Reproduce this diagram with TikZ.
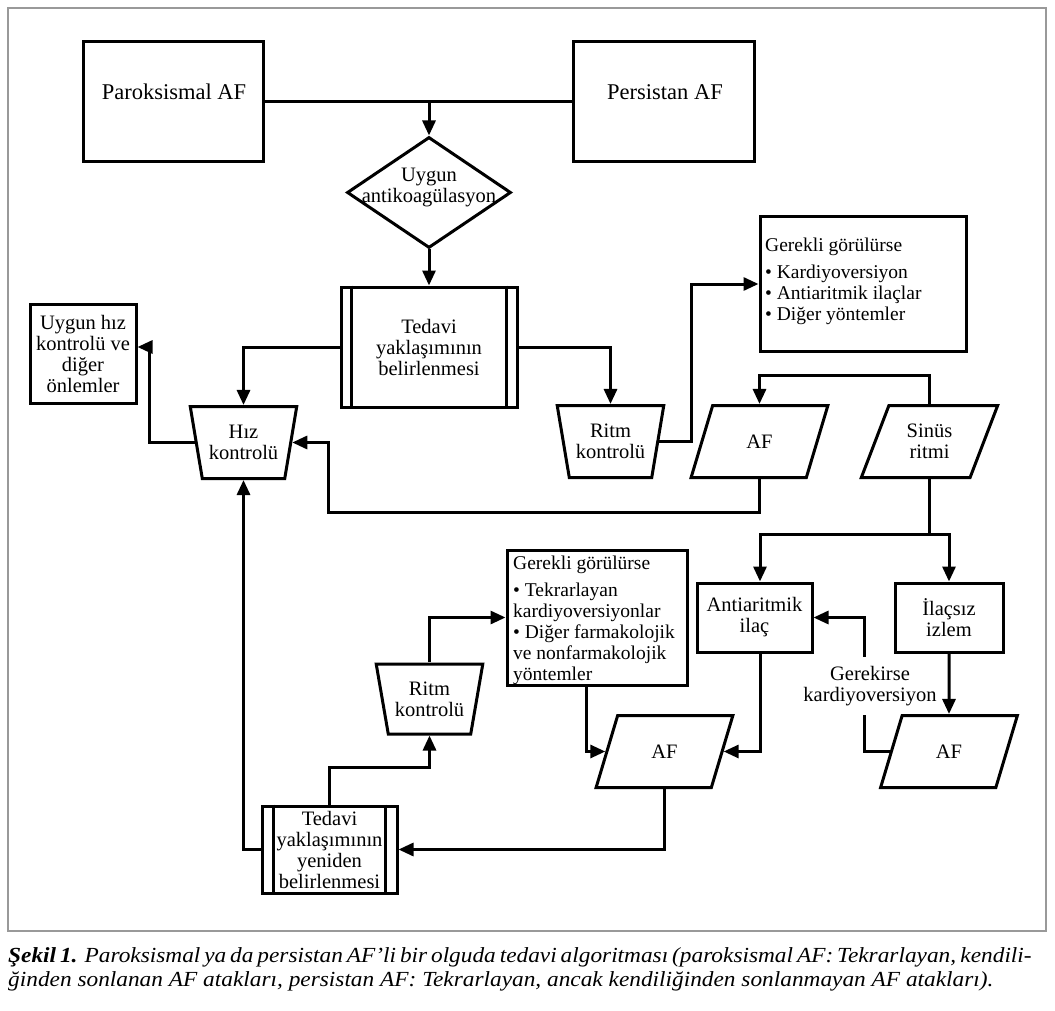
\documentclass[tikz,border=0pt]{standalone}
\usepackage{fontspec}
\setmainfont{Liberation Serif}
\usetikzlibrary{arrows.meta,shapes.geometric}
\tikzset{
  ln/.style={line width=3pt},
  arr/.style={line width=3pt,-{Triangle[length=15pt,width=13pt]}},
  box/.style={draw,line width=3pt,rectangle,inner sep=0pt,align=center},
  txt/.style={inner sep=0pt,align=center},
  trap/.style={draw,line width=3pt,trapezium,trapezium left angle=106.3,trapezium right angle=106.3,
    trapezium stretches=true,minimum width=107,minimum height=72,inner sep=0pt,align=center},
  para/.style={draw,line width=3pt,trapezium,trapezium left angle=66,trapezium right angle=114,
    trapezium stretches=true,minimum width=137,minimum height=72,inner sep=0pt,align=center},
  captxt/.style={anchor=base west,inner sep=0pt,font=\fontsize{21.5}{25}\selectfont\itshape},
  every node/.style={font=\fontsize{20.5}{21}\selectfont},
}
\begin{document}
\begin{tikzpicture}[x=1pt,y=-1pt]
\useasboundingbox (0,0) rectangle (1055,1011);
\draw[gray!80,line width=1.2pt] (8,8) rectangle (1046,931);

% top
\node[box,minimum width=180,minimum height=120] (par) at (173,102) {};
\node[txt,font=\fontsize{22.5}{24}\selectfont] (part) at (174,92) {Paroksismal AF};
\node[box,minimum width=181,minimum height=120] (per) at (663.5,102) {};
\node[txt,font=\fontsize{22.5}{24}\selectfont] (pert) at (665,92) {Persistan AF};
\node[draw,diamond,line width=3pt,minimum width=164,minimum height=111,inner sep=0pt] (dia) at (429,192.5) {};
\node[txt] (diat) at (429,188) {Uygun\\antikoagülasyon};
\node[box,minimum width=176,minimum height=120] (ted) at (429,347) {Tedavi\\yaklaşımının\\belirlenmesi};
\draw[ln] ([xshift=12pt]ted.north west) -- ([xshift=12pt]ted.south west);
\draw[ln] ([xshift=-12pt]ted.north east) -- ([xshift=-12pt]ted.south east);

% left
\node[box,minimum width=106,minimum height=99] (uy) at (83,353.5) {Uygun hız\\kontrolü ve\\diğer\\önlemler};
\node[trap] (hiz) at (243.5,442.5) {Hız\\kontrolü};
\node[trap] (r1) at (610.5,441.5) {Ritm\\kontrolü};

% upper right
\node[box,minimum width=206,minimum height=134] (g1) at (863,284) {};
\node[txt,align=left,anchor=north west,font=\fontsize{19.5}{21}\selectfont] (g1t) at (765,238)
  {Gerekli görülürse\\[6pt]• Kardiyoversiyon\\• Antiaritmik ilaçlar\\• Diğer yöntemler};
\node[para] (af1) at (759.5,441.5) {AF};
\node[para] (sin) at (929.5,441.5) {Sinüs\\ritmi};

% lower right
\node[box,minimum width=115,minimum height=69] (anti) at (754.5,617.5) {Antiaritmik\\ilaç};
\node[box,minimum width=108,minimum height=69] (ilac) at (949,617.5) {İlaçsız\\izlem};
\node[para] (af3) at (949,751.5) {AF};
\node[para] (af2) at (664.5,751.5) {AF};
\node[txt,inner ysep=9pt] (gk) at (870,686) {Gerekirse\\kardiyoversiyon};

% lower left
\node[box,minimum width=180,minimum height=135] (g2) at (597,617.5) {};
\node[txt,align=left,anchor=north west,font=\fontsize{19.5}{21}\selectfont] (g2t) at (513,556)
  {Gerekli görülürse\\[6pt]• Tekrarlayan\\kardiyoversiyonlar\\• Diğer farmakolojik\\ve nonfarmakolojik\\yöntemler};
\node[trap,minimum height=70] (r2) at (429.5,699) {Ritm\\kontrolü};
\node[box,minimum width=135,minimum height=87] (t2) at (329.5,849.5) {Tedavi\\yaklaşımının\\yeniden\\belirlenmesi};
\draw[ln] ([xshift=13pt]t2.north west) -- ([xshift=13pt]t2.south west);
\draw[ln] ([xshift=-13pt]t2.north east) -- ([xshift=-13pt]t2.south east);

% connectors
\draw[ln] (par.east) -- (per.west);
\coordinate (j1) at (par.east -| dia.north);
\draw[arr] (j1) -- (dia.north);
\draw[arr] (dia.south) -- (dia.south |- ted.north);
\draw[arr] (ted.west) -| (hiz.north);
\draw[arr] (ted.east) -| (r1.north);
\draw[arr] (hiz.left side) -- ++(-45,0) |- ([yshift=6.5pt]uy.east);
\coordinate (c1) at (328,512);
\draw[arr] (af1.south) |- (c1) |- (hiz.right side);
\draw[arr] (t2.west) -| (hiz.south);
\draw[arr] (r1.right side) -- ++(32,0) |- (g1.west);
\draw[arr] (sin.north) -- ++(0,-28) -| (af1.north);
\draw[ln] (sin.south) -- ++(0,55) coordinate (br);
\coordinate (bl) at ([xshift=5.5pt]br -| anti.north);
\draw[arr] (br) -| (ilac.north);
\draw[arr] (br) -- (bl) -- (bl |- anti.north);
\draw[arr] (ilac.south) -- (af3.north);
\draw[arr] (bl |- anti.south) |- (af2.right side);
\draw[ln] (af3.left side) -| ([xshift=-6pt]gk.south);
\draw[arr] ([xshift=-6pt]gk.north) |- (anti.east);
\draw[arr] ([xshift=-11pt]g2.south) |- (af2.left side);
\draw[arr] (af2.south) |- (t2.east);
\draw[arr] (t2.north) -- ++(0,-37) -| (r2.south);
\draw[arr] (r2.north) |- (g2.west);

% caption
\node[captxt] (cap1) at (8,962)
  {\scalebox{1.085}[1]{\makebox[939pt][s]{\textbf{Şekil 1.} Paroksismal ya da persistan AF’li bir olguda tedavi algoritması (paroksismal AF: Tekrarlayan, kendili-}}};
\node[captxt] (cap2) at (8,986)
  {\scalebox{1.085}[1]{ğinden sonlanan AF atakları, persistan AF: Tekrarlayan, ancak kendiliğinden sonlanmayan AF atakları).}};
\end{tikzpicture}
\end{document}
